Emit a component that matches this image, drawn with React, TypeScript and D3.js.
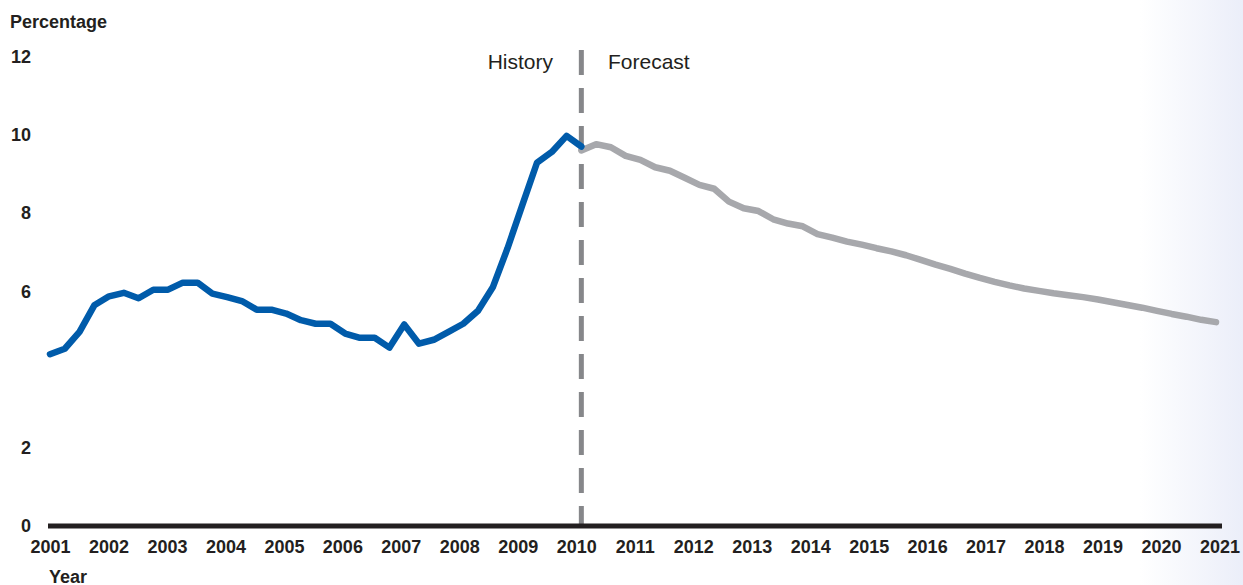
import React from "react";
import * as d3 from "d3";

// Quarterly values, 2001 Q1 onward
const historyValues = [
  4.39, 4.53, 4.96, 5.64, 5.87, 5.96, 5.82, 6.04, 6.04, 6.22, 6.22, 5.94, 5.85,
  5.75, 5.53, 5.53, 5.43, 5.26, 5.17, 5.17, 4.92, 4.81, 4.81, 4.56, 5.15, 4.66,
  4.76, 4.96, 5.17, 5.5, 6.1, 7.1, 8.2, 9.29, 9.56, 9.97, 9.7,
];
// Forecast starts at the last history quarter (index 36)
const forecastValues = [
  9.6, 9.76, 9.68, 9.46, 9.36, 9.17, 9.08, 8.9, 8.72, 8.62, 8.29, 8.12, 8.05,
  7.84, 7.73, 7.66, 7.46, 7.37, 7.27, 7.19, 7.1, 7.02, 6.92, 6.8, 6.68, 6.57,
  6.45, 6.34, 6.24, 6.15, 6.07, 6.01, 5.95, 5.9, 5.85, 5.79, 5.72, 5.65, 5.58,
  5.5, 5.42, 5.35, 5.27, 5.21,
];
const yearLabels = d3.range(2001, 2022).map(String);
const yTickValues = [0, 2, 6, 8, 10, 12];

const W = 1243;
const H = 585;
const TEXT = "#231f20";
const FONT = "'Liberation Sans', Arial, Helvetica, sans-serif";

export default function App() {
  const lastIndex = historyValues.length - 1 + forecastValues.length - 1;
  const x = d3.scaleLinear().domain([0, lastIndex]).range([50, 1216]);
  const y = d3.scaleLinear().domain([0, 12]).range([526, 56.5]);
  const xYear = d3.scalePoint<string>().domain(yearLabels).range([50.5, 1220]);

  const histPts: [number, number][] = historyValues.map((v, i) => [i, v]);
  const foreStart = historyValues.length - 1;
  const forePts: [number, number][] = forecastValues.map((v, i) => [foreStart + i, v]);

  const line = d3
    .line<[number, number]>()
    .x((d) => x(d[0]))
    .y((d) => y(d[1]));

  const divX = x(foreStart);

  return (
    <svg
      width={W}
      height={H}
      style={{ position: "absolute", left: 0, top: 0, display: "block" }}
      fontFamily={FONT}
    >
      <defs>
        <linearGradient id="bgfade" x1="0" x2="1" y1="0" y2="0">
          <stop offset="0" stopColor="#ffffff" />
          <stop offset="1" stopColor="#ebeef9" />
        </linearGradient>
      </defs>
      <rect x={0} y={0} width={W} height={H} fill="#ffffff" />
      <rect x={1140} y={0} width={W - 1140} height={H} fill="url(#bgfade)" />

      {/* axis title */}
      <text x={10} y={28} fontSize={18} fontWeight="bold" fill={TEXT}>
        Percentage
      </text>

      {/* y tick labels */}
      {yTickValues.map((v) => (
        <text
          key={v}
          x={31}
          y={y(v)}
          dy="0.36em"
          textAnchor="end"
          fontSize={18}
          fontWeight="bold"
          fill={TEXT}
        >
          {v}
        </text>
      ))}

      {/* divider */}
      <line
        x1={divX}
        x2={divX}
        y1={50}
        y2={524}
        stroke="#86878a"
        strokeWidth={5}
        strokeDasharray="25 13"
      />
      <text x={553} y={69} textAnchor="end" fontSize={21} fill={TEXT}>
        History
      </text>
      <text x={608} y={69} textAnchor="start" fontSize={21} fill={TEXT}>
        Forecast
      </text>

      {/* lines */}
      <path
        d={line(forePts) || ""}
        fill="none"
        stroke="#a7a8ac"
        strokeWidth={6.5}
        strokeLinecap="round"
        strokeLinejoin="round"
      />
      <path
        d={line(histPts) || ""}
        fill="none"
        stroke="#005baa"
        strokeWidth={6.5}
        strokeLinecap="round"
        strokeLinejoin="round"
      />

      {/* x axis */}
      <line x1={48} x2={1222} y1={526} y2={526} stroke={TEXT} strokeWidth={5} />
      {yearLabels.map((yr) => (
        <text
          key={yr}
          x={xYear(yr)}
          y={553}
          textAnchor="middle"
          fontSize={18}
          fontWeight="bold"
          fill={TEXT}
        >
          {yr}
        </text>
      ))}
      <text x={49} y={583} fontSize={18} fontWeight="bold" fill={TEXT}>
        Year
      </text>
    </svg>
  );
}
